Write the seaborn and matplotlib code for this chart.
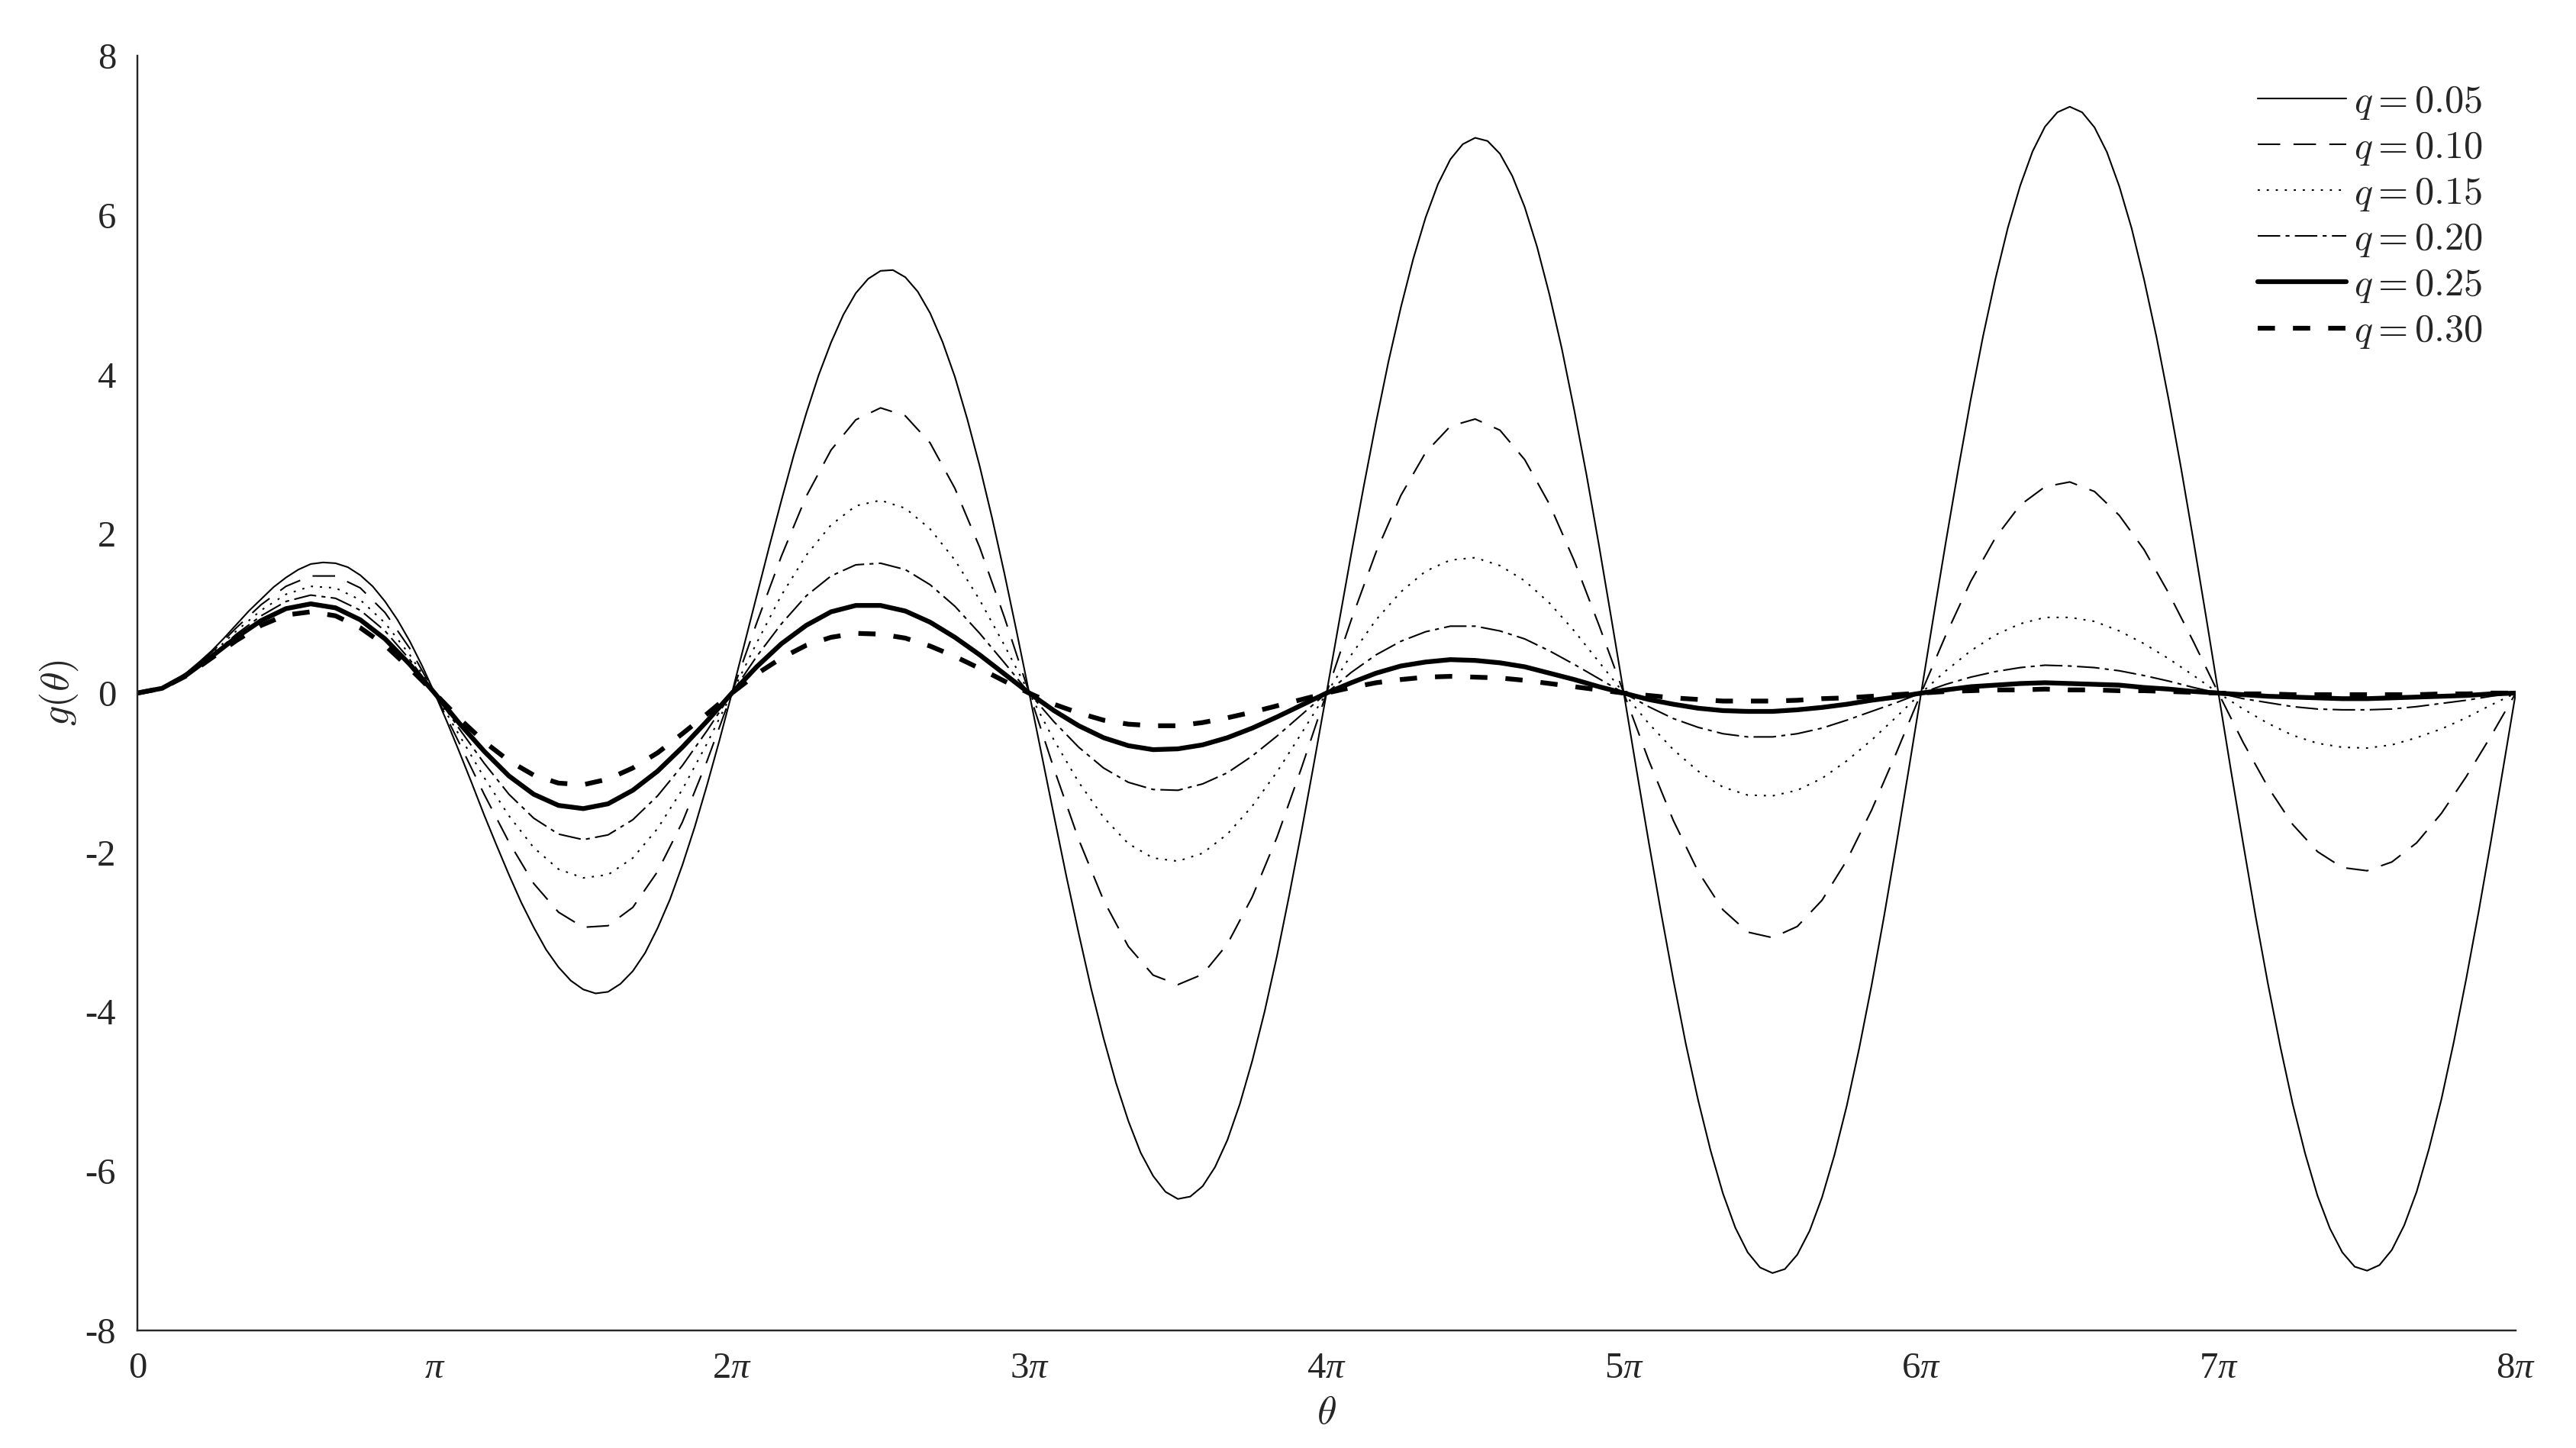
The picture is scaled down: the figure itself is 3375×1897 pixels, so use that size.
import numpy as np
import pandas as pd
import matplotlib
matplotlib.use('Agg')
import matplotlib.pyplot as plt
from matplotlib.font_manager import FontProperties
import seaborn as sns

# Valores.
# q = 0.05 muestreada cada pi/24, el resto cada pi/12, entre 0 y 8*pi.
theta_fina = np.linspace(0, 8 * np.pi, 193)
theta = np.linspace(0, 8 * np.pi, 97)

q_values = ['0.05', '0.10', '0.15', '0.20', '0.25', '0.30']

g_q005 = [0, .02, .07, .15, .26, .39, .53, .69, .86, 1.03, 1.18, 1.33, 1.45, 1.55, 1.62, 1.64, 1.63, 1.58, 1.48, 1.34, 1.15, .92, .65, .34,
          0, -.36, -.74, -1.13, -1.53, -1.91, -2.28, -2.63, -2.94, -3.22, -3.44, -3.61, -3.72, -3.77, -3.75, -3.65, -3.49, -3.26, -2.95, -2.59, -2.16, -1.68, -1.15, -.59,
          0, .61, 1.22, 1.83, 2.42, 2.99, 3.51, 3.99, 4.40, 4.75, 5.02, 5.20, 5.30, 5.31, 5.22, 5.04, 4.77, 4.41, 3.97, 3.44, 2.85, 2.20, 1.50, .76,
          0, -.77, -1.54, -2.30, -3.02, -3.71, -4.33, -4.89, -5.37, -5.77, -6.06, -6.26, -6.35, -6.32, -6.19, -5.95, -5.61, -5.16, -4.62, -4.00, -3.30, -2.53, -1.72, -.87,
          0, .88, 1.75, 2.59, 3.40, 4.16, 4.84, 5.45, 5.97, 6.39, 6.70, 6.89, 6.97, 6.93, 6.77, 6.49, 6.10, 5.60, 5.00, 4.32, 3.55, 2.73, 1.85, .93,
          0, -.94, -1.86, -2.75, -3.60, -4.40, -5.11, -5.74, -6.28, -6.71, -7.02, -7.21, -7.28, -7.23, -7.05, -6.75, -6.33, -5.80, -5.18, -4.46, -3.67, -2.81, -1.90, -.96,
          0, .96, 1.90, 2.81, 3.68, 4.48, 5.20, 5.84, 6.37, 6.80, 7.11, 7.29, 7.36, 7.29, 7.10, 6.79, 6.36, 5.83, 5.19, 4.47, 3.67, 2.81, 1.90, .96,
          0, -.96, -1.89, -2.80, -3.65, -4.44, -5.16, -5.78, -6.31, -6.72, -7.02, -7.20, -7.25, -7.18, -6.99, -6.68, -6.26, -5.72, -5.10, -4.38, -3.59, -2.75, -1.86, -.93,
          0]

g_q010 = [0, .07, .25, .51, .82, 1.11, 1.34, 1.47, 1.47, 1.32, 1.01, .56,
          0, -.63, -1.27, -1.87, -2.39, -2.75, -2.94, -2.92, -2.69, -2.24, -1.62, -.85,
          0, .88, 1.72, 2.47, 3.05, 3.43, 3.58, 3.48, 3.14, 2.57, 1.83, .95,
          0, -.95, -1.84, -2.60, -3.18, -3.54, -3.66, -3.53, -3.15, -2.56, -1.81, -.93,
          0, .92, 1.77, 2.48, 3.02, 3.35, 3.44, 3.30, 2.93, 2.37, 1.66, .85,
          0, -.84, -1.60, -2.24, -2.72, -3.00, -3.07, -2.93, -2.60, -2.10, -1.47, -.75,
          0, .73, 1.40, 1.95, 2.36, 2.59, 2.65, 2.53, 2.23, 1.80, 1.25, .64,
          0, -.62, -1.18, -1.65, -1.99, -2.19, -2.23, -2.12, -1.88, -1.51, -1.05, -.54,
          0]

g_q015 = [0, .07, .24, .49, .78, 1.04, 1.24, 1.34, 1.32, 1.17, .88, .48,
          0, -.53, -1.06, -1.54, -1.94, -2.21, -2.32, -2.28, -2.07, -1.70, -1.21, -.63,
          0, .63, 1.23, 1.73, 2.11, 2.35, 2.42, 2.32, 2.06, 1.67, 1.17, .60,
          0, -.59, -1.12, -1.56, -1.89, -2.07, -2.11, -2.01, -1.77, -1.42, -.99, -.50,
          0, .48, .92, 1.27, 1.53, 1.67, 1.70, 1.60, 1.41, 1.13, .78, .39,
          0, -.38, -.71, -.98, -1.18, -1.28, -1.29, -1.22, -1.07, -.85, -.59, -.30,
          0, .28, .53, .73, .87, .95, .95, .90, .78, .62, .43, .22,
          0, -.20, -.38, -.53, -.63, -.68, -.69, -.65, -.56, -.45, -.31, -.15,
          0]

g_q020 = [0, .06, .24, .47, .74, .97, 1.15, 1.23, 1.19, 1.04, .78, .42,
          0, -.45, -.88, -1.27, -1.57, -1.77, -1.84, -1.78, -1.59, -1.29, -.91, -.47,
          0, .46, .87, 1.22, 1.47, 1.61, 1.63, 1.55, 1.36, 1.09, .75, .38,
          0, -.36, -.68, -.94, -1.12, -1.21, -1.22, -1.14, -1.00, -.79, -.54, -.27,
          0, .26, .48, .65, .77, .84, .84, .78, .68, .53, .36, .18,
          0, -.17, -.32, -.43, -.51, -.55, -.55, -.51, -.44, -.34, -.23, -.12,
          0, .11, .20, .27, .32, .35, .34, .32, .28, .22, .15, .07,
          0, -.07, -.12, -.17, -.20, -.21, -.21, -.20, -.17, -.13, -.09, -.04,
          0]

g_q025 = [0, .06, .23, .46, .70, .91, 1.06, 1.12, 1.07, .92, .68, .36,
          0, -.38, -.73, -1.04, -1.27, -1.41, -1.45, -1.39, -1.22, -.98, -.68, -.35,
          0, .33, .62, .85, 1.02, 1.10, 1.10, 1.03, .89, .70, .48, .24,
          0, -.22, -.41, -.56, -.66, -.71, -.70, -.65, -.56, -.44, -.30, -.15,
          0, .13, .25, .34, .39, .42, .41, .38, .33, .25, .17, .08,
          0, -.08, -.14, -.19, -.22, -.23, -.23, -.21, -.18, -.14, -.09, -.05,
          0, .04, .08, .10, .12, .13, .12, .11, .10, .07, .05, .02,
          0, -.02, -.04, -.05, -.06, -.07, -.07, -.06, -.05, -.04, -.03, -.01,
          0]

g_q030 = [0, .06, .22, .44, .66, .85, .98, 1.02, .97, .82, .60, .31,
          0, -.32, -.61, -.85, -1.03, -1.13, -1.15, -1.08, -.94, -.75, -.51, -.26,
          0, .24, .44, .60, .70, .75, .74, .69, .59, .46, .31, .15,
          0, -.14, -.25, -.34, -.39, -.41, -.41, -.37, -.31, -.24, -.16, -.08,
          0, .07, .13, .17, .20, .21, .20, .19, .16, .12, .08, .04,
          0, -.03, -.06, -.08, -.10, -.10, -.10, -.09, -.07, -.06, -.04, -.02,
          0, .02, .03, .04, .04, .05, .04, .04, .03, .03, .02, .01,
          0, -.01, -.01, -.02, -.02, -.02, -.02, -.02, -.02, -.01, -.01, 0,
          0]

x_tick_labels = ['0', r'$\pi$', r'$2\pi$', r'$3\pi$', r'$4\pi$', r'$5\pi$', r'$6\pi$', r'$7\pi$', r'$8\pi$']
y_tick_labels = ['-8', '-6', '-4', '-2', '0', '2', '4', '6', '8']

# Tabla larga para seaborn.
Series = [g_q005, g_q010, g_q015, g_q020, g_q025, g_q030]
Grillas = [theta_fina, theta, theta, theta, theta, theta]
df = pd.concat([pd.DataFrame({'theta': t, 'g': g, 'q': q})
                for t, g, q in zip(Grillas, Series, q_values)], ignore_index=True)

sns.set_style('white')
plt.rcParams['font.family'] = ['Liberation Serif', 'DejaVu Serif']
plt.rcParams['mathtext.fontset'] = 'custom'
plt.rcParams['mathtext.rm'] = 'Liberation Serif'
plt.rcParams['mathtext.it'] = 'Liberation Serif:italic'
plt.rcParams['lines.scale_dashes'] = False

# Estilos de línea (tipo MATLAB).
Estilos = {
    '0.05': dict(lw=0.6, ls='-'),
    '0.10': dict(lw=0.6, ls=(0, (8.5, 5.0))),
    '0.15': dict(lw=0.6, ls=(0, (0.8, 2.6))),
    '0.20': dict(lw=0.6, ls=(0, (8.5, 2.0, 1.5, 2.0))),
    '0.25': dict(lw=1.8, ls='-'),
    '0.30': dict(lw=1.8, ls=(0, (6.5, 6.8))),
}

Figure = plt.figure(figsize=(13.5, 7.588), dpi=250)
ax = Figure.add_axes([0.0533, 0.0812, 0.9233, 0.8803])

for q in q_values:
    sub = df[df['q'] == q]
    sns.lineplot(x=sub['theta'], y=sub['g'], ax=ax, color='black', label=rf'$q = {q}$',
                 linewidth=Estilos[q]['lw'], linestyle=Estilos[q]['ls'], estimator=None, sort=False)

ax.set_xlim(0, 8 * np.pi)
ax.set_ylim(-8, 8)
ax.set_xticks(np.arange(9) * np.pi)
ax.set_xticklabels(x_tick_labels)
ax.set_yticks(np.arange(-8, 9, 2))
ax.set_yticklabels(y_tick_labels)

Gris = '#262626'
for lado in ['top', 'right']:
    ax.spines[lado].set_visible(False)
for lado in ['left', 'bottom']:
    ax.spines[lado].set_color(Gris)
    ax.spines[lado].set_linewidth(0.7)
ax.tick_params(direction='in', length=9.2, width=0.6, colors=Gris, labelsize=14, pad=8)

Prop_CM = FontProperties(size=15, math_fontfamily='cm')
ax.set_xlabel(r'$\theta$', fontproperties=Prop_CM, color=Gris)
ax.set_ylabel(r'$g(\theta)$', fontproperties=Prop_CM, color=Gris)
ax.xaxis.set_label_coords(0.5, -0.051)
ax.yaxis.set_label_coords(-0.024, 0.5)

Leyenda = ax.legend(loc='upper right', bbox_to_anchor=(0.986, 0.978), frameon=False,
                    prop=FontProperties(size=14.5, math_fontfamily='cm'),
                    handlelength=2.3, handletextpad=0.2, labelspacing=0.22,
                    borderpad=0, borderaxespad=0)

Figure.savefig('out.png', dpi=250, facecolor='white')
